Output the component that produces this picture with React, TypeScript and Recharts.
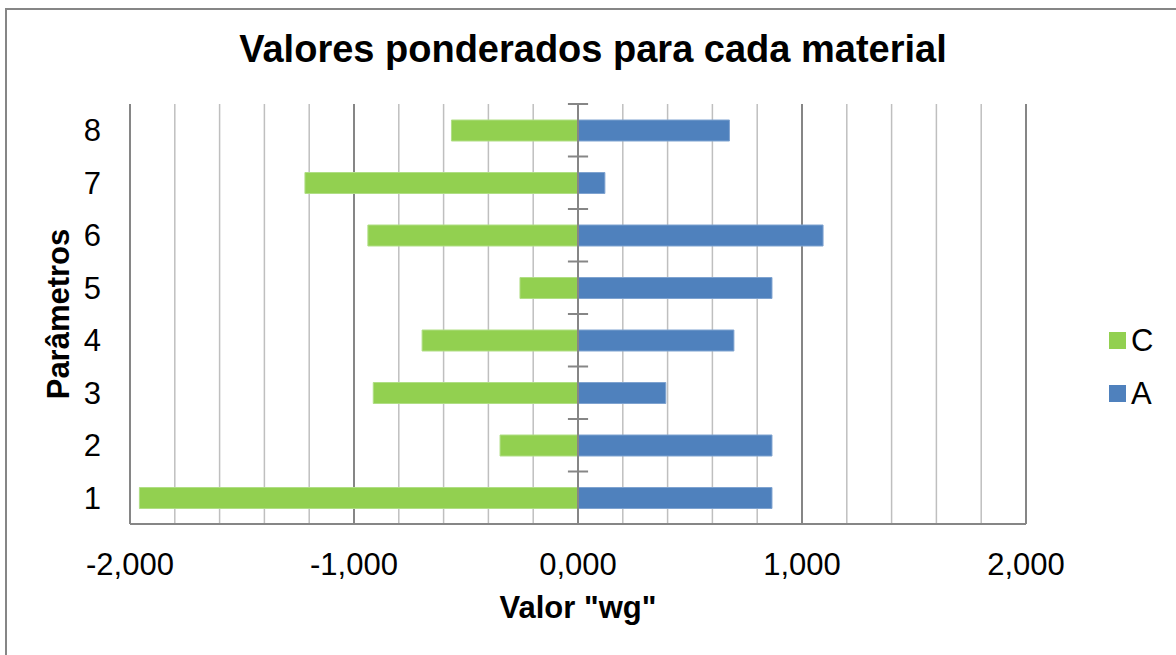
import React from "react";
import {
  BarChart,
  Bar,
  XAxis,
  YAxis,
  CartesianGrid,
  Legend,
  ReferenceLine,
} from "recharts";

const categories = ["1", "2", "3", "4", "5", "6", "7", "8"];
const valuesA = [0.866, 0.866, 0.392, 0.696, 0.866, 1.094, 0.12, 0.676];
const valuesC = [-1.958, -0.348, -0.914, -0.696, -0.259, -0.938, -1.219, -0.565];
const xTicks = [
  -2, -1.8, -1.6, -1.4, -1.2, -1, -0.8, -0.6, -0.4, -0.2, 0, 0.2, 0.4, 0.6,
  0.8, 1, 1.2, 1.4, 1.6, 1.8, 2,
];
// borders between the category bands, in "parameter number" units
const bandEdges = [0.5, 1.5, 2.5, 3.5, 4.5, 5.5, 6.5, 7.5, 8.5];

const data = categories.map((c, i) => ({ cat: c, n: Number(c), A: valuesA[i], C: valuesC[i] }));

const FONT = '"Liberation Sans", Arial, sans-serif';
const GREEN = "#92D050";
const BLUE = "#4F81BD";
const AXIS = "#868686";

const fmtX = (v: number) =>
  Math.abs(v - Math.round(v)) < 1e-9 ? Math.round(v).toFixed(3).replace(".", ",") : "";

const gridLine = (props: any) => {
  const major = props.index % 5 === 0;
  return (
    <line
      key={props.key}
      x1={props.x1}
      y1={props.y1}
      x2={props.x2}
      y2={props.y2}
      stroke={major ? AXIS : "#BFBFBF"}
      strokeWidth={major ? 2 : 1.5}
    />
  );
};

const legendContent = () => (
  <div style={{ fontFamily: FONT, fontSize: 31, color: "#000" }}>
    {[
      { name: "C", color: GREEN },
      { name: "A", color: BLUE },
    ].map((it) => (
      <div key={it.name} style={{ display: "flex", alignItems: "center", height: 53 }}>
        <span style={{ width: 17, height: 17, background: it.color, marginRight: 5 }} />
        <span>{it.name}</span>
      </div>
    ))}
  </div>
);

export default function App() {
  return (
    <div style={{ position: "fixed", left: 0, top: 0, width: 1176, height: 655, background: "#fff", overflow: "hidden" }}>
      <style>{"html,body{overflow:hidden}"}</style>
      <div
        style={{
          position: "absolute",
          left: 5,
          top: 8,
          width: 1300,
          height: 800,
          border: `2px solid ${AXIS}`,
        }}
      />
      <div
        style={{
          position: "absolute",
          left: 0,
          top: 28,
          width: 1186,
          textAlign: "center",
          fontFamily: FONT,
          fontWeight: "bold",
          fontSize: 38,
          lineHeight: "42px",
          color: "#000",
        }}
      >
        Valores ponderados para cada material
      </div>
      <div style={{ position: "absolute", left: 0, top: 0 }}>
        <BarChart
          width={1176}
          height={655}
          data={data}
          layout="vertical"
          stackOffset="sign"
          barSize={21}
          margin={{ top: 104, right: 90, bottom: 0, left: 0 }}
        >
          <CartesianGrid horizontal={false} vertical={gridLine} />
          <XAxis
            type="number"
            domain={[-2, 2]}
            ticks={xTicks}
            tickFormatter={fmtX}
            interval={0}
            height={131}
            tickSize={0}
            tickMargin={29}
            axisLine={{ stroke: AXIS, strokeWidth: 2 }}
            tickLine={false}
            tick={{ fontFamily: FONT, fontSize: 31, fill: "#000" }}
            label={{
              value: 'Valor "wg"',
              position: "insideBottom",
              offset: 37,
              style: { fontFamily: FONT, fontSize: 31, fontWeight: "bold", fill: "#000" },
            }}
          />
          <YAxis
            type="category"
            dataKey="cat"
            reversed
            width={130}
            tickSize={0}
            tickMargin={29}
            axisLine={false}
            tickLine={false}
            tick={{ fontFamily: FONT, fontSize: 31, fill: "#000" }}
            label={{
              value: "Parâmetros",
              angle: -90,
              position: "insideLeft",
              offset: 58,
              style: {
                fontFamily: FONT,
                fontSize: 31,
                fontWeight: "bold",
                fill: "#000",
                textAnchor: "middle",
              },
            }}
          />
          <YAxis
            yAxisId="edges"
            dataKey="n"
            type="number"
            scale="linear"
            domain={[0.5, 8.5]}
            allowDataOverflow
            hide
          />
          <Legend
            layout="vertical"
            align="right"
            verticalAlign="middle"
            content={legendContent}
            wrapperStyle={{ left: 1109, top: 314, width: 60 }}
          />
          <Bar dataKey="A" stackId="s" fill={BLUE} stroke="#7FA3D0" strokeWidth={1} isAnimationActive={false} />
          <Bar dataKey="C" stackId="s" fill={GREEN} stroke="#B0DE85" strokeWidth={1} isAnimationActive={false} />
          <ReferenceLine x={0} stroke={AXIS} strokeWidth={2} />
          {bandEdges.map((e) => (
            <ReferenceLine
              key={e}
              yAxisId="edges"
              segment={[
                { x: -0.045, y: e },
                { x: 0.045, y: e },
              ]}
              stroke={AXIS}
              strokeWidth={2}
            />
          ))}
        </BarChart>
      </div>
    </div>
  );
}
